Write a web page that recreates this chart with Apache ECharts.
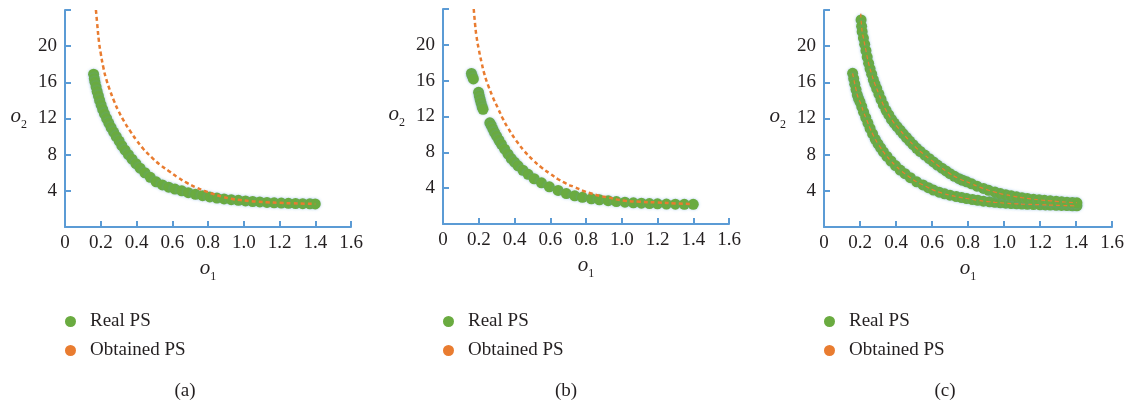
<!DOCTYPE html>
<html>
<head>
<meta charset="utf-8">
<script src="https://cdn.jsdelivr.net/npm/echarts@6/dist/echarts.min.js"></script>
<style>
  html, body { margin: 0; padding: 0; background: #fff; }
  #main { width: 1127px; height: 402px; }
</style>
</head>
<body>
<div id="main"></div>
<script>
// 三个子图 (a)(b)(c) 的数据
const captions = ["(a)", "(b)", "(c)"];
const legendNames = ["Real PS", "Obtained PS"];

// (a)
const realA = [[0.160,16.9],[0.164,16.4],[0.168,16.0],[0.174,15.5],[0.180,15.0],[0.187,14.5],[0.194,14.0],[0.202,13.5],[0.211,13.0],[0.221,12.5],[0.233,12.0],[0.245,11.5],[0.258,11.0],[0.272,10.5],[0.287,10.0],[0.303,9.5],[0.318,9.0],[0.336,8.5],[0.355,8.0],[0.375,7.5],[0.397,7.0],[0.420,6.5],[0.447,6.0],[0.477,5.5],[0.510,5.0],[0.545,4.65],[0.580,4.4],[0.615,4.2],[0.653,4.0],[0.690,3.8],[0.730,3.62],[0.770,3.47],[0.810,3.33],[0.850,3.2],[0.890,3.1],[0.930,3.02],[0.970,2.95],[1.010,2.88],[1.050,2.82],[1.090,2.77],[1.130,2.72],[1.170,2.68],[1.210,2.65],[1.250,2.62],[1.290,2.6],[1.330,2.58],[1.370,2.56],[1.400,2.55]];
const obtainedA = [[0.173,24],[0.180,22.5],[0.190,20.5],[0.200,19.2],[0.215,17.6],[0.230,16.4],[0.250,15.2],[0.275,13.9],[0.300,12.8],[0.330,11.7],[0.365,10.6],[0.400,9.6],[0.440,8.6],[0.485,7.7],[0.530,6.9],[0.580,6.2],[0.630,5.5],[0.680,4.9],[0.730,4.4],[0.780,4.0],[0.830,3.65],[0.880,3.35],[0.930,3.12],[0.980,2.98],[1.030,2.88],[1.080,2.8],[1.130,2.74],[1.200,2.67],[1.270,2.62],[1.340,2.58],[1.400,2.55]];

// (b)
const realB = [[0.159,16.8],[0.164,16.5],[0.170,16.2],
  [0.199,14.7],[0.203,14.3],[0.208,13.9],[0.213,13.5],[0.219,13.1],[0.224,12.8],
  [0.262,11.3],[0.270,11.0],[0.279,10.6],[0.289,10.2],[0.300,9.8],[0.313,9.35],[0.327,8.9],[0.345,8.35],[0.364,7.8],[0.382,7.3],[0.400,6.9],[0.420,6.5],[0.447,6.0],[0.476,5.55],[0.510,5.05],[0.551,4.6],[0.595,4.15],[0.644,3.75],[0.690,3.4],[0.737,3.15],[0.780,2.98],[0.830,2.82],[0.875,2.7],[0.924,2.6],[0.970,2.5],[1.018,2.43],[1.065,2.37],[1.110,2.32],[1.155,2.28],[1.200,2.25],[1.250,2.23],[1.300,2.21],[1.350,2.2],[1.400,2.2]];
const obtainedB = [[0.172,24],[0.180,22.2],[0.187,21.0],[0.200,19.5],[0.215,18.1],[0.232,16.7],[0.252,15.5],[0.280,14.1],[0.308,12.9],[0.336,11.7],[0.364,10.7],[0.410,9.3],[0.457,8.1],[0.505,7.1],[0.551,6.3],[0.600,5.6],[0.644,5.0],[0.690,4.5],[0.737,4.1],[0.785,3.7],[0.830,3.4],[0.875,3.15],[0.924,2.97],[0.970,2.75],[1.018,2.6],[1.100,2.48],[1.200,2.4],[1.300,2.3],[1.390,2.23]];

// (c) 两条前沿
const realC1 = [[0.159,17.0],[0.165,16.4],[0.171,15.8],[0.178,15.2],[0.185,14.6],[0.192,14.2],[0.200,13.85],[0.210,13.3],[0.220,12.7],[0.232,12.1],[0.244,11.5],[0.256,10.9],[0.270,10.3],[0.285,9.7],[0.300,9.2],[0.315,8.75],[0.330,8.3],[0.350,7.8],[0.372,7.3],[0.397,6.8],[0.423,6.3],[0.450,5.9],[0.480,5.45],[0.515,5.0],[0.550,4.65],[0.580,4.35],[0.608,4.08],[0.640,3.85],[0.670,3.67],[0.700,3.52],[0.735,3.37],[0.765,3.25],[0.793,3.15],[0.825,3.04],[0.855,2.95],[0.886,2.86],[0.920,2.79],[0.950,2.73],[0.980,2.68],[1.010,2.63],[1.040,2.59],[1.070,2.56],[1.100,2.53],[1.130,2.51],[1.164,2.49],[1.200,2.46],[1.230,2.44],[1.257,2.42],[1.290,2.4],[1.320,2.38],[1.350,2.37],[1.380,2.35],[1.405,2.34]];
const realC2 = [[0.206,22.9],[0.209,22.2],[0.212,21.6],[0.219,20.9],[0.226,20.2],[0.233,19.5],[0.240,18.8],[0.248,18.1],[0.256,17.5],[0.265,16.9],[0.274,16.3],[0.283,15.8],[0.293,15.3],[0.305,14.7],[0.317,14.1],[0.330,13.5],[0.345,12.9],[0.360,12.4],[0.375,11.9],[0.390,11.5],[0.406,11.1],[0.423,10.7],[0.440,10.3],[0.458,9.9],[0.476,9.5],[0.495,9.1],[0.515,8.7],[0.535,8.35],[0.560,7.95],[0.585,7.55],[0.608,7.2],[0.630,6.85],[0.655,6.5],[0.678,6.2],[0.700,5.9],[0.725,5.6],[0.750,5.35],[0.770,5.17],[0.793,5.0],[0.820,4.78],[0.850,4.52],[0.886,4.26],[0.915,4.06],[0.950,3.86],[0.980,3.7],[1.010,3.57],[1.040,3.45],[1.070,3.34],[1.100,3.24],[1.130,3.16],[1.164,3.08],[1.195,3.01],[1.225,2.95],[1.257,2.9],[1.290,2.84],[1.320,2.79],[1.350,2.75],[1.380,2.71],[1.405,2.68]];
const obtainedC1 = realC1;
const obtainedC2 = [[0.204,23.6]].concat(realC2);

const GREEN = "#6aab40";
const ORANGE = "#e97c30";
const BLUE = "#5b9bd5";
const TEXT = "#231f20";
const SERIF = "'Liberation Serif', 'DejaVu Serif', serif";

const grids = [
  { left: 65, top: 10, width: 286, height: 217 },
  { left: 443, top: 9, width: 286, height: 215 },
  { left: 824, top: 10, width: 288, height: 217 }
];
const captionX = [180, 561, 940];

const nameRich = {
  i: { fontFamily: SERIF, fontStyle: "italic", fontSize: 21, color: TEXT, padding: [0, 0, 4, 0], verticalAlign: "top" },
  s: { fontFamily: SERIF, fontSize: 12, color: TEXT, verticalAlign: "bottom" }
};

function xAxisOf(i) {
  return {
    gridIndex: i, type: "value", min: 0, max: 1.6, interval: 0.2,
    name: "{i|o}{s|1}", nameLocation: "middle", nameGap: 28,
    nameTextStyle: { rich: nameRich },
    axisLine: { lineStyle: { color: BLUE, width: 2 } },
    axisTick: { inside: true, length: 6, lineStyle: { color: BLUE, width: 2 } },
    axisLabel: {
      margin: 7, fontFamily: SERIF, fontSize: 19, color: TEXT,
      formatter: v => v === 0 ? "0" : v.toFixed(1)
    },
    splitLine: { show: false }
  };
}
function yAxisOf(i) {
  return {
    gridIndex: i, type: "value", min: 0, max: 24, interval: 4,
    name: "{i|o}{s|2}", nameLocation: "middle", nameGap: 38, nameRotate: 0,
    nameTextStyle: { rich: nameRich },
    axisLine: { lineStyle: { color: BLUE, width: 2 } },
    axisTick: { inside: true, length: 6, lineStyle: { color: BLUE, width: 2 } },
    axisLabel: {
      margin: 8, fontFamily: SERIF, fontSize: 19, color: TEXT,
      formatter: v => (v === 0 || v === 24) ? "" : String(v)
    },
    splitLine: { show: false }
  };
}
function realSeries(i, data) {
  return {
    name: "Real PS", type: "scatter", xAxisIndex: i, yAxisIndex: i,
    data: data, symbolSize: 11, z: 2,
    itemStyle: { color: GREEN, opacity: 1, shadowBlur: 3, shadowColor: "rgba(91,155,213,0.45)" }
  };
}
function obtainedSeries(i, data, width) {
  return {
    name: "Obtained PS", type: "line", xAxisIndex: i, yAxisIndex: i,
    data: data, smooth: true, showSymbol: false, symbol: "none", z: 3,
    itemStyle: { color: ORANGE },
    lineStyle: { color: ORANGE, width: width, type: [4, 3] }
  };
}

const chart = echarts.init(document.getElementById("main"));
chart.setOption({
  animation: false,
  backgroundColor: "#fff",
  title: captions.map((c, i) => ({
    text: c, left: captionX[i], top: 377, textAlign: "center",
    textStyle: { fontFamily: SERIF, fontSize: 19, fontWeight: "normal", color: TEXT }
  })),
  legend: grids.map(g => ({
    data: legendNames, orient: "vertical", left: g.left - 5, top: 307,
    icon: "circle", itemWidth: 11, itemHeight: 11, itemGap: 10,
    selectedMode: false,
    textStyle: { fontFamily: SERIF, fontSize: 19, color: TEXT, padding: [0, 0, 0, 9] }
  })),
  grid: grids,
  xAxis: [0, 1, 2].map(xAxisOf),
  yAxis: [0, 1, 2].map(yAxisOf),
  series: [
    realSeries(0, realA), obtainedSeries(0, obtainedA, 2.5),
    realSeries(1, realB), obtainedSeries(1, obtainedB, 2.5),
    realSeries(2, realC1), realSeries(2, realC2),
    obtainedSeries(2, obtainedC1, 1.2), obtainedSeries(2, obtainedC2, 1.2)
  ]
});
</script>
</body>
</html>
